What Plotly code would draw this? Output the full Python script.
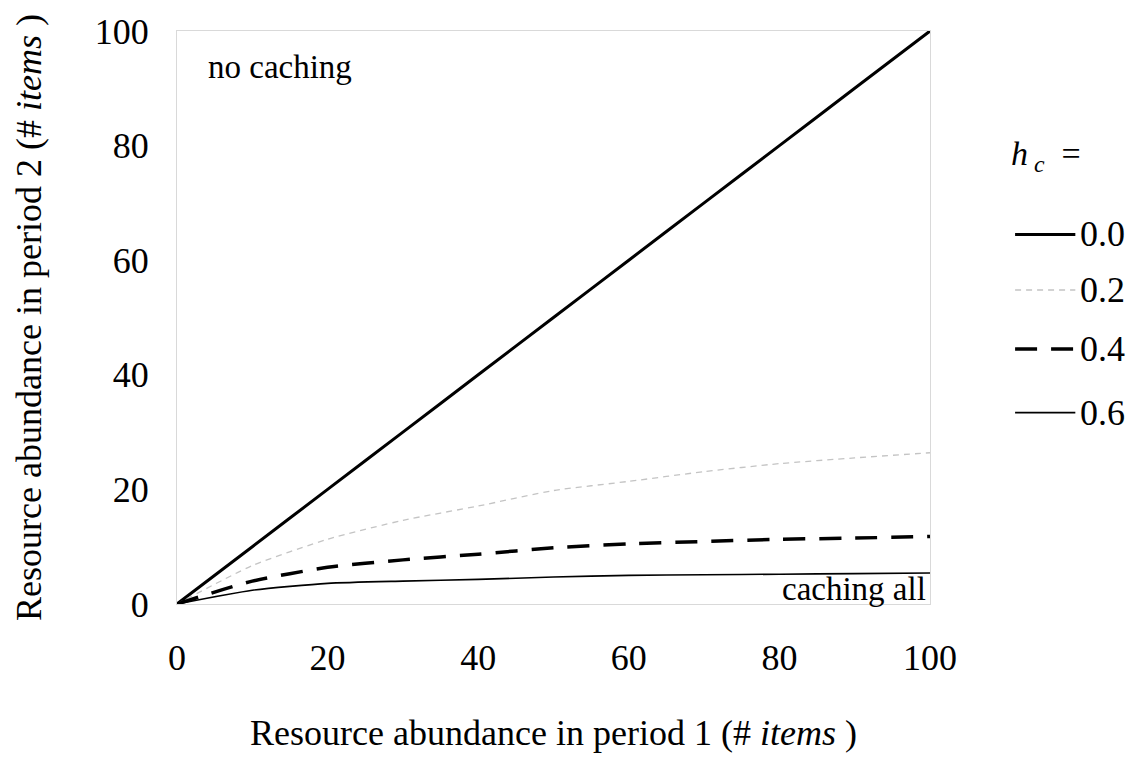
import plotly.graph_objects as go

# Resource abundance in period 1 (# items)
x_items = [0, 10, 20, 30, 40, 50, 60, 70, 80, 90, 100]

# Resource abundance in period 2 for each caching cost h_c
hc_labels = ["0.0", "0.2", "0.4", "0.6"]
y_hc00 = [0, 10, 20, 30, 40, 50, 60, 70, 80, 90, 100]
y_hc02 = [0, 6.7, 11.3, 14.6, 17.1, 19.8, 21.4, 23.1, 24.5, 25.5, 26.4]
y_hc04 = [0, 4.0, 6.4, 7.7, 8.7, 9.8, 10.5, 10.9, 11.3, 11.5, 11.8]
y_hc06 = [0, 2.4, 3.6, 4.0, 4.3, 4.7, 5.0, 5.1, 5.2, 5.3, 5.4]

series = [y_hc00, y_hc02, y_hc04, y_hc06]
styles = [
    dict(color="#000000", width=3, dash="solid"),
    dict(color="#c4c4c4", width=1.3, dash="6px,5px"),
    dict(color="#000000", width=3.5, dash="22px,14px"),
    dict(color="#000000", width=1.6, dash="solid"),
]

FONT = "Liberation Serif"

fig = go.Figure()
for lab, ys, st in zip(hc_labels, series, styles):
    fig.add_trace(go.Scatter(
        x=x_items, y=ys, mode="lines", name=lab,
        line=dict(**st, shape="spline", smoothing=0.6),
        showlegend=False,
    ))

# Legend key drawn beside the plot area (paper coordinates)
key_x0, key_x1, key_text_x = 1.113, 1.193, 1.197
key_rows = [0.645, 0.548, 0.445, 0.334]
for lab, st, ky in zip(hc_labels, styles, key_rows):
    fig.add_shape(type="line", xref="paper", yref="paper",
                  x0=key_x0, x1=key_x1, y0=ky, y1=ky, line=st)
    fig.add_annotation(x=key_text_x, y=ky, xref="paper", yref="paper",
                       text=lab, showarrow=False, xanchor="left", yanchor="middle",
                       font=dict(family=FONT, size=36, color="#000"))
fig.add_annotation(x=1.105, y=0.782, xref="paper", yref="paper",
                   text="<i>h</i><sub> <i>c</i></sub>  =", showarrow=False,
                   xanchor="left", yanchor="middle",
                   font=dict(family=FONT, size=34, color="#000"))

fig.add_annotation(x=3.8, y=93.8, xref="x", yref="y", text="no caching",
                   showarrow=False, xanchor="left", yanchor="middle",
                   font=dict(family=FONT, size=33, color="#000"))
fig.add_annotation(x=99.7, y=2.6, xref="x", yref="y", text="caching all",
                   showarrow=False, xanchor="right", yanchor="middle",
                   font=dict(family=FONT, size=33, color="#000"))

axis_common = dict(
    range=[0, 100], dtick=20, showgrid=False, zeroline=False,
    showline=True, linecolor="#d9d9d9", linewidth=1, mirror=True,
    ticks="", tickfont=dict(family=FONT, size=36, color="#000"),
)

fig.update_layout(
    width=1135, height=758,
    margin=dict(l=177, r=205, t=24, b=154),
    paper_bgcolor="white", plot_bgcolor="white",
    font=dict(family=FONT, color="#000"),
    showlegend=False,
    xaxis=dict(**axis_common, ticklabelstandoff=22,
               title=dict(text="Resource abundance in period 1 (# <i>items</i> )",
                          font=dict(family=FONT, size=36), standoff=42)),
    yaxis=dict(**axis_common, ticklabelstandoff=20,
               title=dict(text="Resource abundance in period 2 (# <i>items</i> )",
                          font=dict(family=FONT, size=36), standoff=42)),
)

fig.write_html("out.html")
